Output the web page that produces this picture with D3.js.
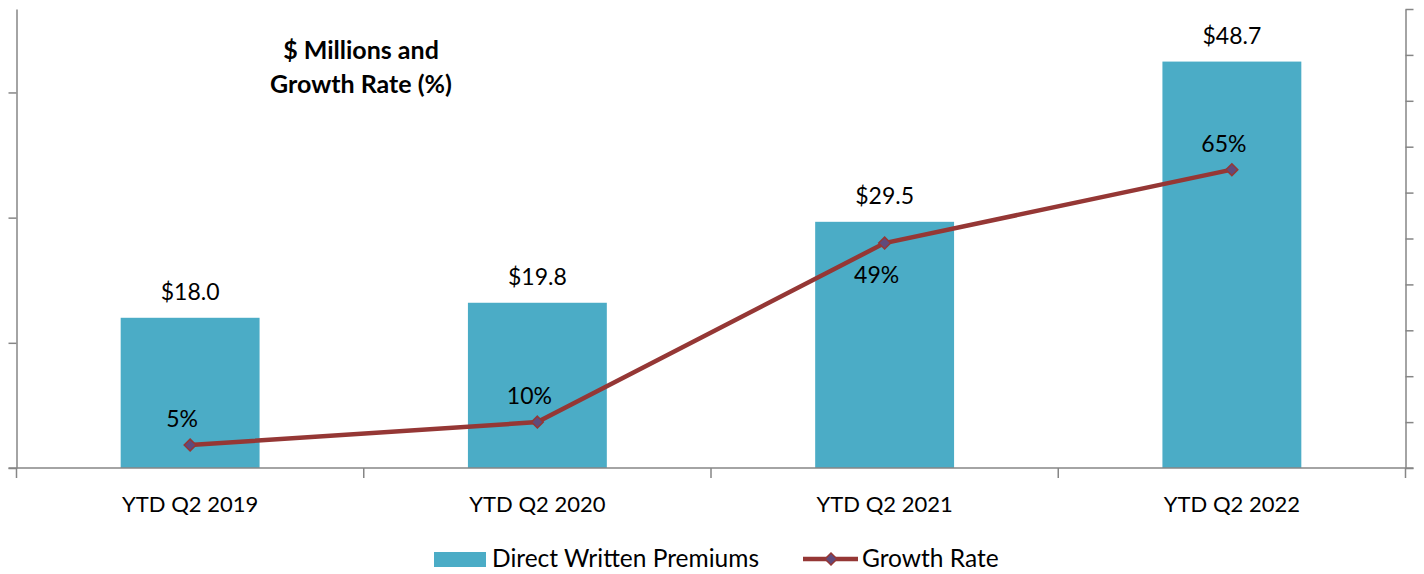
<!DOCTYPE html>
<html>
<head>
<meta charset="utf-8">
<script src="https://cdn.jsdelivr.net/npm/d3@7"></script>
<style>
  body { margin: 0; background: #fff; }
  text { font-family: Lato, "Open Sans", sans-serif; fill: #000; }
</style>
</head>
<body>
<div id="container"></div>
<script>
/* CONSTANTS AND GLOBALS */
const width = 1424;
const height = 574;

/* DATA */
const categories = ["YTD Q2 2019", "YTD Q2 2020", "YTD Q2 2021", "YTD Q2 2022"];
const premiums = [18.0, 19.8, 29.5, 48.7];
const growth = [5, 10, 49, 65];
const growthLabelSide = ["above", "above", "below", "above"];
const leftTicks = [0, 15, 30, 45];
const rightTicks = [0, 10, 20, 30, 40, 50, 60, 70, 80, 90, 100];

const barColor = "#4BACC6";
const lineColor = "#953735";
const markerColor = "#604A7B";
const axisColor = "#868686";

const plotLeft = 16.5, plotRight = 1405.5, plotTop = 9, plotBase = 468;

/* SCALES */
const xScale = d3.scaleBand()
  .domain(categories)
  .range([plotLeft, plotRight])
  .paddingInner(0.6)
  .paddingOuter(0.3);

const yLeft = d3.scaleLinear().domain([0, 55]).range([plotBase, plotTop]);
const yRight = d3.scaleLinear().domain([0, 100]).range([plotBase, plotTop]);

/* SVG */
const svg = d3.select("#container")
  .append("svg")
  .attr("width", width)
  .attr("height", height);

// bars
svg.selectAll("rect.bar")
  .data(premiums)
  .join("rect")
  .attr("class", "bar")
  .attr("x", (d, i) => xScale(categories[i]))
  .attr("y", d => yLeft(d))
  .attr("width", xScale.bandwidth())
  .attr("height", d => plotBase - yLeft(d))
  .attr("fill", barColor);

// bar value labels
svg.selectAll("text.val")
  .data(premiums)
  .join("text")
  .attr("class", "val")
  .attr("x", (d, i) => xScale(categories[i]) + xScale.bandwidth() / 2)
  .attr("y", d => yLeft(d) - 18)
  .attr("text-anchor", "middle")
  .attr("font-size", 23)
  .text(d => "$" + d.toFixed(1));

// axes
const leftAxis = d3.axisLeft(yLeft).tickValues(leftTicks).tickSize(8).tickSizeOuter(0).tickFormat("");
const gL = svg.append("g").attr("transform", `translate(${plotLeft},0)`).call(leftAxis);

const rightAxis = d3.axisRight(yRight).tickValues(rightTicks).tickSize(8).tickSizeOuter(0).tickFormat("");
const gR = svg.append("g").attr("transform", `translate(${plotRight},0)`).call(rightAxis);

const bottomAxis = d3.axisBottom(xScale).tickSize(0).tickSizeOuter(0).tickPadding(28);
const gB = svg.append("g").attr("transform", `translate(0,${plotBase})`).call(bottomAxis);
gB.select(".domain").attr("d", `M${plotLeft - 8},0H${plotRight + 8}`);
gB.selectAll("text").attr("font-size", 22).attr("font-family", "Lato, 'Open Sans', sans-serif").attr("fill", "#000");

// category boundary ticks
const step = xScale.step();
const bounds = categories.map(c => xScale(c) - step * 0.3).concat([plotRight]);
gB.selectAll("line.bound")
  .data(bounds)
  .join("line")
  .attr("class", "bound")
  .attr("x1", d => d).attr("x2", d => d)
  .attr("y1", 0).attr("y2", 10);

[gL, gR, gB].forEach(g => {
  g.selectAll("path, line").attr("stroke", axisColor).attr("stroke-width", 1.5);
});

// growth line
const line = d3.line()
  .x((d, i) => xScale(categories[i]) + xScale.bandwidth() / 2)
  .y(d => yRight(d));

svg.append("path")
  .datum(growth)
  .attr("d", line)
  .attr("fill", "none")
  .attr("stroke", lineColor)
  .attr("stroke-width", 4.5);

const diamond = d3.symbol().type(d3.symbolDiamond2).size(90);
svg.selectAll("path.marker")
  .data(growth)
  .join("path")
  .attr("class", "marker")
  .attr("d", diamond)
  .attr("transform", (d, i) => `translate(${xScale(categories[i]) + xScale.bandwidth() / 2},${yRight(d)})`)
  .attr("fill", markerColor)
  .attr("stroke", lineColor)
  .attr("stroke-width", 1.5);

svg.selectAll("text.pct")
  .data(growth)
  .join("text")
  .attr("class", "pct")
  .attr("x", (d, i) => xScale(categories[i]) + xScale.bandwidth() / 2 - 8)
  .attr("y", (d, i) => growthLabelSide[i] === "above" ? yRight(d) - 18 : yRight(d) + 40)
  .attr("text-anchor", "middle")
  .attr("font-size", 23)
  .text(d => d + "%");

// title
const title = svg.append("text")
  .attr("x", 361)
  .attr("y", 59)
  .attr("text-anchor", "middle")
  .attr("font-size", 25)
  .attr("font-weight", "bold");
title.append("tspan").attr("x", 361).text("$ Millions and");
title.append("tspan").attr("x", 361).attr("dy", 34).text("Growth Rate (%)");

// legend
const legend = svg.append("g");
legend.append("rect")
  .attr("x", 434).attr("y", 552).attr("width", 52).attr("height", 15)
  .attr("fill", barColor);
legend.append("text")
  .attr("x", 492).attr("y", 567)
  .attr("font-size", 24.5)
  .text("Direct Written Premiums");
legend.append("line")
  .attr("x1", 803).attr("x2", 858).attr("y1", 559).attr("y2", 559)
  .attr("stroke", lineColor).attr("stroke-width", 4.5);
legend.append("path")
  .attr("d", diamond)
  .attr("transform", "translate(831,559)")
  .attr("fill", markerColor)
  .attr("stroke", lineColor)
  .attr("stroke-width", 1.5);
legend.append("text")
  .attr("x", 862).attr("y", 567)
  .attr("font-size", 24.5)
  .text("Growth Rate");
</script>
</body>
</html>
